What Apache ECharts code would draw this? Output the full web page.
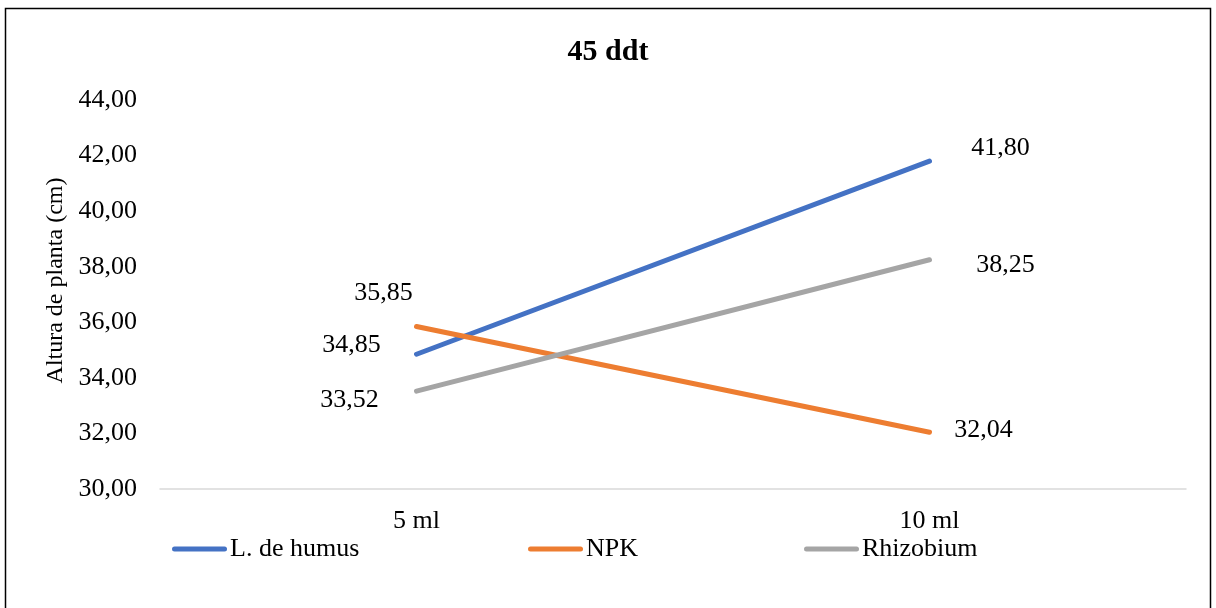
<!DOCTYPE html>
<html>
<head>
<meta charset="utf-8">
<script src="https://cdn.jsdelivr.net/npm/echarts@6/dist/echarts.min.js"></script>
<style>html,body{margin:0;padding:0;background:#fff}#c{width:1216px;height:608px}</style>
</head>
<body>
<div id="c"></div>
<script>
const categories = ['5 ml', '10 ml'];
const seriesNames = ['L. de humus', 'NPK', 'Rhizobium'];
const humus = [34.85, 41.80];
const npk = [35.85, 32.04];
const rhizobium = [33.52, 38.25];
const yTicks = { min: 30, max: 44, step: 2 };

const FONT = 'Liberation Serif';
const colors = ['#4472C4', '#ED7D31', '#A5A5A5'];
const labelOffsets = [
  [[-65, -9], [71, -13]],
  [[-33, -33], [54, -2]],
  [[-67, 9], [76, 5]]
];
const legendLefts = [167, 523, 799];
const fmt = v => v.toFixed(2).replace('.', ',');

const allData = [humus, npk, rhizobium];
const series = allData.map((vals, si) => ({
  name: seriesNames[si],
  type: 'line',
  data: vals.map((v, i) => ({
    value: v,
    label: { offset: labelOffsets[si][i] }
  })),
  symbol: 'circle',
  symbolSize: 0.1,
  itemStyle: { color: colors[si] },
  lineStyle: { width: 5, color: colors[si], cap: 'round' },
  label: {
    show: true,
    position: 'inside',
    align: 'center',
    verticalAlign: 'middle',
    formatter: p => fmt(p.value),
    fontFamily: FONT,
    fontSize: 26,
    color: '#000'
  },
  emphasis: { disabled: true },
  animation: false
}));

const linePath = 'path://M2.5,0 L52.5,0 A2.5,2.5 0 0 1 52.5,5 L2.5,5 A2.5,2.5 0 0 1 2.5,0 Z';
const legends = seriesNames.map((n, i) => ({
  left: legendLefts[i],
  top: 531,
  itemWidth: 55,
  itemHeight: 5,
  itemGap: 0,
  icon: linePath,
  textStyle: { fontFamily: FONT, fontSize: 26, color: '#000', padding: [0, 0, 0, -2] },
  data: [{ name: n, itemStyle: { color: colors[i] } }]
}));

const chart = echarts.init(document.getElementById('c'));
chart.setOption({
  backgroundColor: '#fff',
  animation: false,
  title: {
    text: '45 ddt',
    left: 'center',
    top: 32,
    textStyle: { fontFamily: FONT, fontSize: 30, fontWeight: 'bold', color: '#000' }
  },
  graphic: [{
    type: 'rect',
    shape: { x: 5.5, y: 8.5, width: 1205, height: 640 },
    style: { fill: 'none', stroke: '#000', lineWidth: 1.5 },
    silent: true
  }],
  legend: legends,
  grid: { left: 160, right: 30, top: 100, bottom: 119, containLabel: false },
  xAxis: {
    type: 'category',
    data: categories,
    boundaryGap: true,
    axisLine: { lineStyle: { color: '#d9d9d9', width: 1.5 } },
    axisTick: { show: false },
    axisLabel: { fontFamily: FONT, fontSize: 26, color: '#000', margin: 19 }
  },
  yAxis: {
    type: 'value',
    min: yTicks.min,
    max: yTicks.max,
    interval: yTicks.step,
    name: 'Altura de planta (cm)',
    nameLocation: 'middle',
    nameGap: 92,
    nameTextStyle: { fontFamily: FONT, fontSize: 24, color: '#000', padding: [0, 0, 0, 28] },
    axisLine: { show: false },
    axisTick: { show: false },
    splitLine: { show: false },
    axisLabel: { fontFamily: FONT, fontSize: 26, color: '#000', margin: 23, formatter: v => fmt(v) }
  },
  series: series
});
</script>
</body>
</html>
